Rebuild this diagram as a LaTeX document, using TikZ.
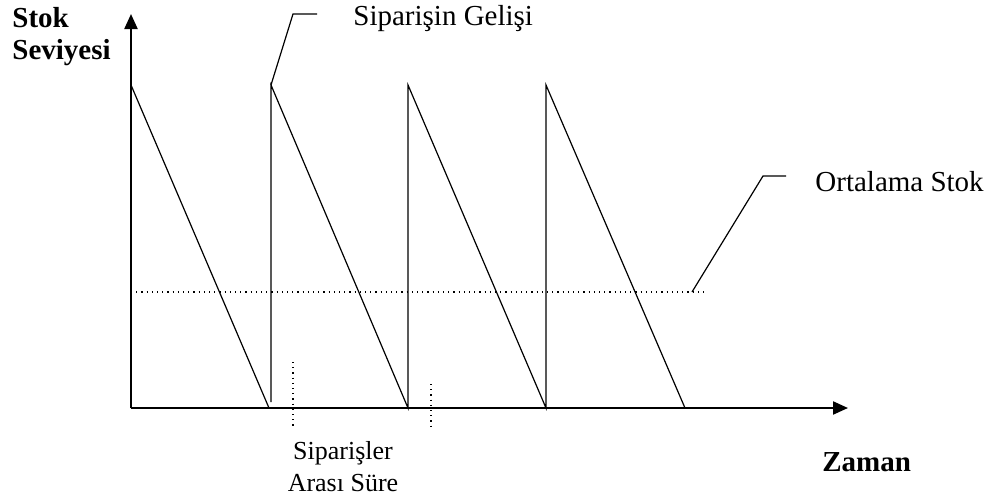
\documentclass[tikz,border=0pt]{standalone}
\usepackage{fontspec}
\setmainfont{Liberation Serif}
\usetikzlibrary{positioning,arrows.meta}
\newcommand{\metin}{\fontsize{14.5}{17}\selectfont}

\begin{document}
\begin{tikzpicture}[x=0.5pt, y=0.5pt, font=\metin,
    eksen/.style={line width=1.1pt, -{Triangle[length=7.5pt,width=6.5pt]}},
    testere/.style={line width=0.6pt},
    noktali/.style={line width=0.6pt, dotted},
    isaret/.style={line width=0.6pt}]
  \useasboundingbox (0,0) rectangle (1008,500);
  % eksenler
  \coordinate (o) at (131,92);
  \coordinate (yuc) at (131,486);
  \coordinate (xuc) at (848,92);
  \draw[eksen] (o) -- (yuc);
  \draw[eksen] (o) -- (xuc);
  % testere dişi
  \coordinate (t1) at (131,415);
  \coordinate (d1) at (269,92);
  \coordinate (a1) at (271,98);
  \coordinate (t2) at (271,415);
  \coordinate (d2) at (408,92);
  \coordinate (t3) at (408,415);
  \coordinate (d3) at (546,92);
  \coordinate (t4) at (546,415);
  \coordinate (d4) at (685,92);
  \draw[testere] (t1) -- (d1);
  \draw[testere] (a1) -- (t2) -- (d2) -- (t3) -- (d3) -- (t4) -- (d4);
  % ortalama stok
  \coordinate (m0) at (131,208);
  \coordinate (m1) at (707,208);
  \coordinate (mk) at (692,208);
  \draw[noktali] (m0) -- (m1);
  % siparisler arasi
  \coordinate (s1a) at (293,138);
  \coordinate (s1b) at (293,71);
  \coordinate (s2a) at (431,116);
  \coordinate (s2b) at (431,71);
  \draw[noktali] (s1a) -- (s1b);
  \draw[noktali] (s2a) -- (s2b);
  % etiketler
  \node[anchor=west, font=\metin\bfseries, inner sep=0pt] (stok) at (12,482) {Stok};
  \node[anchor=west, font=\metin\bfseries, inner sep=0pt] (seviye) at (12,447) {Seviyesi};
  \node[anchor=west, font=\metin\bfseries, inner sep=0pt] (zaman) at (822,38) {Zaman};
  \node[anchor=west, inner sep=0pt] (gelis) at (353,481) {Siparişin Gelişi};
  \node[anchor=west, inner sep=0pt] (ortalama) at (815,318) {Ortalama Stok};
  \node[align=center, inner sep=0pt, font=\fontsize{13}{16}\selectfont] (arasi) at (343,33)
    {Siparişler\\Arası Süre};
  % isaret cizgileri
  \coordinate (g1) at (293,486);
  \coordinate (g2) at (317,486);
  \draw[isaret] (t2) -- (g1) -- (g2);
  \coordinate (k1) at (763,324);
  \coordinate (k2) at (786,324);
  \draw[isaret] (mk) -- (k1) -- (k2);
\end{tikzpicture}
\end{document}
